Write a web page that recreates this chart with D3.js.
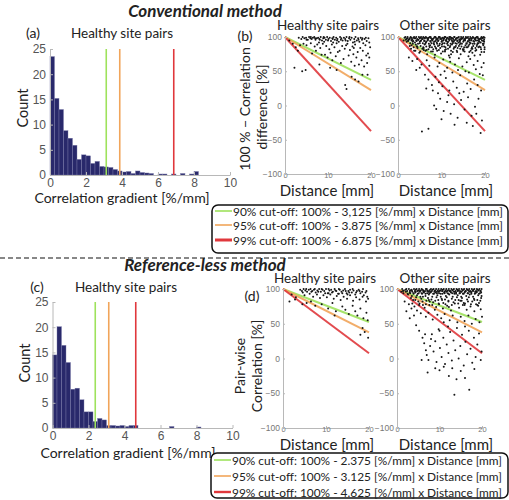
<!DOCTYPE html>
<html lang="en">
<head>
<meta charset="utf-8">
<style>
body { margin: 0; background: #fff; }
svg text { font-family: Lato, "Open Sans", sans-serif; fill: #222; }
.tk text { font-family: "Liberation Sans", Arial, sans-serif; fill: #555; }
.tk path, .tk line { stroke: #b8b8b8; }
</style>
</head>
<body>
<script src="https://d3js.org/d3.v7.min.js"></script>
<script>
// histogram bins (left edge, width 0.25 %/mm)
const binEdges = [0,0.25,0.5,0.75,1,1.25,1.5,1.75,2,2.25,2.5,2.75,3,3.25,3.5,3.75,4,4.25,4.5,4.75,5,5.25,5.5,5.75,6,6.25,6.5,6.75,7,7.25,7.5,7.75,8];
const countsA = [23.5,15.2,13,8.8,7.3,5.9,3.1,4.0,3.8,2.3,2.7,1.7,1.6,1.5,1.1,0.8,0.6,0.7,0.3,0.8,0.5,0.4,0.3,0,0.2,0.2,0,0.2,0,0.3,0,0.2,0.7];
const countsC = [14.5,20.1,16.4,13,7.7,7.9,5.6,3.2,3.2,1.3,1.9,1.6,0.5,0.5,0.4,0.5,0.3,0.5,0.5,0,0,0,0,0,0,0,0.3,0,0,0,0,0,0.2];

const cutoffsB = [3.125, 3.875, 6.875];
const cutoffsD = [2.375, 3.125, 4.625];
const cutColors = ["#9ee25c", "#f1a55a", "#e0383c"];
const legendB = ["90% cut-off: 100% - 3,125 [%/mm] x Distance [mm]",
                 "95% cut-off: 100% - 3.875 [%/mm] x Distance [mm]",
                 "99% cut-off: 100% - 6.875 [%/mm] x Distance [mm]"];
const legendD = ["90% cut-off: 100% - 2.375 [%/mm] x Distance [mm]",
                 "95% cut-off: 100% - 3.125 [%/mm] x Distance [mm]",
                 "99% cut-off: 100% - 4.625 [%/mm] x Distance [mm]"];

const histTicksX = [0,2,4,6,8,10];
const histTicksY = [0,5,10,15,20,25];
const scatTicksX = [0,10,20];
const scatTicksY = [-100,-50,0,50,100];

// scatter points "distance value" pairs
const ptsBHealthy = "3.2 99,3.8 97,4.1 100,4.5 98,4.9 99,5.3 96,5.6 100,5.9 98,6.2 97,6.5 99,6.8 100,7.1 96,7.4 98,7.7 99,8.0 97,8.3 100,8.6 95,8.9 98,9.2 99,9.5 96,9.8 100,10.1 97,10.4 99,10.7 94,11.0 98,11.3 100,11.6 96,11.9 99,12.2 97,12.5 93,12.8 100,13.1 98,13.4 95,13.7 99,14.0 97,14.3 100,14.6 94,14.9 98,15.2 96,15.5 99,15.8 92,16.1 97,16.4 100,16.7 95,17.0 98,17.3 93,17.6 99,17.9 96,18.2 91,18.5 97,19.0 94,19.4 98," +
  "5.0 96,6.0 100,7.0 98,8.1 96,9.0 100,10.0 95,11.1 97,12.1 95,13.0 96,14.1 95,15.0 100,16.2 93,17.1 96,18.0 98,18.8 99,19.6 92," +
  "4.3 90,5.0 88,6.0 91,6.9 86,7.5 89,8.2 84,8.8 90,9.6 87,10.3 82,10.9 89,11.5 85,12.0 91,12.7 80,13.3 87,13.9 83,14.5 90,15.1 81,15.7 86,16.3 89,16.9 78,17.5 84,18.1 80,18.7 88,19.3 76,19.8 85,11.2 92,9.1 93,7.9 92,14.2 88,16.0 84," +
  "2.5 85,3.0 80,3.5 88,6.3 76,7.2 80,8.5 74,9.9 70,10.6 77,11.8 72,12.3 78,13.6 68,14.8 73,15.4 64,16.6 70,17.2 60,17.8 66,18.4 57,19.1 62,19.6 70,13.0 62,11.0 66,9.3 74,15.9 75,18.9 73,16.2 58," +
  "2.2 55,4.0 50,4.8 52,8.0 60,12.0 52,14.0 30,14.3 24,15.5 42,16.3 38,17.1 35,18.0 45,19.2 45,10.5 55,1.0 95,1.8 90";

const ptsBOther = "1.5 99,1.9 97,2.2 100,2.6 98,3.0 99,3.3 96,3.7 100,4.0 98,4.4 97,4.8 100,5.1 99,5.5 97,5.8 100,6.2 98,6.6 99,6.9 96,7.3 100,7.6 98,8.0 97,8.4 100,8.7 99,9.1 97,9.4 100,9.8 98,10.2 99,10.5 96,10.9 100,11.2 98,11.6 97,12.0 100,12.3 99,12.7 97,13.0 100,13.4 98,13.8 99,14.1 96,14.5 100,14.8 98,15.2 97,15.6 100,15.9 99,16.3 97,16.6 100,17.0 98,17.4 99,17.7 96,18.1 100,18.4 98,18.8 97,19.2 100,19.5 98,19.8 96," +
  "1.7 100,2.1 98,2.4 96,2.9 100,3.2 97,3.5 99,4.2 100,4.6 96,5.0 98,5.3 100,5.7 97,6.0 99,6.4 100,6.8 97,7.1 99,7.5 100,7.8 96,8.2 98,8.6 100,8.9 97,9.3 99,9.6 100,10.0 97,10.4 98,10.7 100,11.1 96,11.4 99,11.8 100,12.2 97,12.5 98,12.9 100,13.2 96,13.6 99,14.0 100,14.3 97,14.7 98,15.0 100,15.4 96,15.8 99,16.1 100,16.5 97,16.8 98,17.2 100,17.6 97,17.9 99,18.3 100,18.6 96,19.0 98,19.4 99,19.7 100," +
  "1.3 95,1.8 96,2.3 94,2.7 97,3.1 95,3.4 93,3.8 98,4.3 94,4.7 96,5.2 94,5.6 98,6.1 95,6.5 93,6.9 98,7.4 94,7.9 96,8.3 93,8.8 96,9.2 94,9.7 97,10.1 94,10.6 98,11.0 95,11.5 93,11.9 97,12.4 95,12.8 93,13.3 97,13.7 95,14.2 93,14.6 97,15.1 95,15.5 98,16.0 93,16.4 95,16.9 97,17.3 94,17.8 98,18.2 95,18.7 93,19.1 97,19.6 94,19.9 99," +
  "2.0 93,2.4 95,2.8 91,3.5 94,3.9 92,4.2 95,4.6 90,5.0 93,5.3 95,5.7 91,6.0 94,6.4 92,6.8 95,7.1 90,7.5 93,7.9 95,8.2 91,8.6 94,8.9 92,9.3 95,9.6 90,10.0 93,10.4 95,10.7 91,11.1 94,11.4 92,11.8 95,12.1 90,12.5 93,12.9 95,13.2 91,13.6 94,13.9 92,14.3 95,14.7 90,15.0 93,15.4 95,15.7 91,16.1 94,16.5 92,16.8 95,17.2 90,17.5 93,17.9 95,18.3 91,18.6 94,19.0 92,19.3 95,19.7 90," +
  "3.1 88,3.6 85,4.1 89,4.5 84,5.2 87,5.6 83,6.1 89,6.5 86,7.0 82,7.4 88,7.8 85,8.3 89,8.8 83,9.2 87,9.7 84,10.1 89,10.6 86,11.0 82,11.5 88,11.9 85,12.4 89,12.8 83,13.3 87,13.7 84,14.2 89,14.6 86,15.1 82,15.5 88,16.0 85,16.4 89,16.9 83,17.3 87,17.8 84,18.2 89,18.7 86,19.1 82,19.6 88,19.9 85," +
  "2.7 87,3.4 90,4.3 86,5.0 91,5.8 85,6.3 90,7.2 87,7.7 91,8.5 86,9.0 90,9.5 88,10.3 91,10.9 85,11.3 90,12.0 87,12.6 91,13.1 85,13.5 90,14.0 87,14.4 91,15.2 85,15.8 90,16.2 87,16.7 91,17.0 85,17.6 90,18.1 87,18.5 91,19.0 85,19.5 90,19.8 93," +
  "3.0 83,3.7 80,4.4 86,5.1 79,5.9 84,6.6 81,7.3 85,8.0 79,8.7 84,9.4 81,10.1 86,10.8 79,11.5 83,12.2 80,12.9 85,13.6 78,14.3 83,15.0 80,15.7 85,16.4 78,17.1 83,17.8 80,18.5 85,19.2 78,19.9 82," +
  "4.0 80,4.9 77,5.9 81,6.7 75,7.6 79,8.5 74,9.0 80,9.9 76,10.8 81,11.7 73,12.6 78,13.5 80,14.4 75,15.3 79,16.2 72,17.1 77,18.0 81,18.9 74,19.8 78,12.2 75,14.9 82,16.7 80,10.3 79,8.1 82,6.3 80,17.6 73," +
  "2.5 70,3.3 65,4.4 68,5.4 60,6.6 66,7.2 58,8.4 70,9.5 62,10.4 67,11.3 55,12.0 64,13.1 60,14.0 69,14.8 57,15.8 63,16.6 68,17.4 59,18.3 65,19.2 56,19.7 62,11.9 70,9.1 57,13.8 52,15.5 50,17.9 53,16.3 48,18.8 46,19.5 44,10.7 50,12.5 48," +
  "6.2 45,7.0 38,7.8 30,8.6 42,9.4 34,10.2 28,11.0 40,11.8 22,12.7 35,13.5 26,14.3 44,15.1 20,15.9 32,16.7 24,17.5 38,18.3 30,19.1 22,6.5 25,8.0 22,9.8 45,5.0 55,4.2 52," +
  "5.5 -38,7.0 -34,19.0 -40,8.3 0,8.8 -5,9.7 10,10.5 -8,11.3 5,12.1 -12,12.9 2,13.7 -18,14.5 8,15.3 -6,16.1 12,16.9 -15,17.7 -2,18.5 10,19.3 -22,10.0 -20,13.0 -28,15.8 -25,11.6 15,14.1 18,17.2 -30,9.2 18,18.0 -12";

const ptsDHealthy = "4.0 99,4.4 97,4.8 100,5.2 98,5.6 96,6.0 99,6.4 100,6.8 97,7.2 99,7.6 95,8.0 98,8.4 100,8.8 96,9.2 99,9.6 97,10.0 100,10.4 94,10.8 98,11.2 99,11.6 96,12.0 100,12.4 97,12.8 93,13.2 99,13.6 96,14.0 98,14.4 100,14.8 94,15.2 97,15.6 99,16.0 95,16.4 98,16.8 92,17.2 97,17.6 99,18.0 94,18.4 96,18.8 91,19.2 95,19.6 89," +
  "4.6 95,5.4 100,6.6 96,7.4 100,8.2 96,9.0 100,9.8 94,10.6 100,11.4 95,12.2 98,13.0 100,13.8 94,14.6 97,15.4 95,16.2 100,17.0 95,17.8 97,18.6 100,19.4 97," +
  "5.0 91,6.2 93,7.0 89,7.9 92,8.6 87,9.4 91,10.2 88,11.0 92,11.8 86,12.5 90,13.4 84,14.1 89,14.9 86,15.6 91,16.3 83,17.0 88,17.8 85,18.5 89,19.3 82,19.8 86,13.0 93,15.0 92,10.6 94," +
  "2.0 92,3.0 88,5.5 80,6.5 82,7.5 76,9.0 78,10.5 72,11.5 80,12.3 68,13.8 75,14.5 70,15.3 64,16.2 76,17.3 62,18.0 72,18.7 58,19.4 66,19.7 55,16.8 68,12.0 62," +
  "1.5 82,2.8 85,18.0 34,19.0 38,19.8 30,18.5 44,4.5 78";

const ptsDOther = "1.2 100,1.6 98,2.0 99,2.4 97,2.8 100,3.2 98,3.6 96,4.0 100,4.4 99,4.8 97,5.2 100,5.6 98,6.0 99,6.4 96,6.8 100,7.2 98,7.6 97,8.0 100,8.4 99,8.8 96,9.2 100,9.6 98,10.0 97,10.4 100,10.8 99,11.2 96,11.6 100,12.0 98,12.4 97,12.8 100,13.2 99,13.6 96,14.0 100,14.4 98,14.8 97,15.2 100,15.6 99,16.0 96,16.4 100,16.8 98,17.2 97,17.6 100,18.0 99,18.4 96,18.8 100,19.2 98,19.6 97,19.9 100," +
  "1.4 97,2.2 100,3.0 97,3.4 99,4.2 97,4.6 100,5.0 98,5.4 96,5.8 100,6.2 98,6.6 97,7.0 100,7.4 96,7.8 99,8.2 97,8.6 100,9.0 98,9.4 96,9.8 100,10.2 98,10.6 97,11.0 100,11.4 98,11.8 97,12.2 100,12.6 96,13.0 98,13.4 100,13.8 97,14.2 99,14.6 100,15.0 96,15.4 98,15.8 100,16.2 97,16.6 99,17.0 100,17.4 96,17.8 98,18.2 100,18.6 97,19.0 99,19.4 100,19.8 95," +
  "1.0 96,1.5 94,2.1 96,2.5 93,3.0 95,3.5 98,3.9 94,4.4 96,4.9 93,5.3 97,5.8 94,6.2 96,6.7 93,7.1 97,7.6 94,8.0 96,8.5 93,8.9 97,9.4 94,9.8 96,10.3 93,10.7 97,11.2 94,11.6 96,12.1 93,12.5 97,13.0 94,13.4 96,13.9 93,14.3 97,14.8 94,15.2 96,15.7 93,16.1 97,16.6 94,17.0 96,17.5 93,17.9 97,18.4 94,18.8 96,19.3 93,19.7 97," +
  "2.6 92,3.1 94,3.5 90,3.9 93,4.3 95,4.7 91,5.1 94,5.5 89,5.9 93,6.3 95,6.7 90,7.1 94,7.5 92,7.9 95,8.3 89,8.7 93,9.1 95,9.5 91,9.9 94,10.3 89,10.7 93,11.1 95,11.5 90,11.9 94,12.3 92,12.7 95,13.1 89,13.5 93,13.9 95,14.3 91,14.7 94,15.1 89,15.5 93,15.9 95,16.3 90,16.7 94,17.1 92,17.5 95,17.9 89,18.3 93,18.7 95,19.1 91,19.5 94,19.9 90," +
  "3.3 87,3.8 84,4.5 88,5.0 82,5.7 86,6.1 89,6.9 83,7.3 87,8.1 85,8.5 81,9.3 88,9.7 84,10.5 86,10.9 80,11.7 88,12.1 83,12.9 86,13.3 81,14.1 88,14.5 84,15.3 87,15.7 80,16.5 85,16.9 88,17.7 82,18.1 86,18.9 84,19.3 80,19.8 87,14.9 83,11.3 85,7.7 82," +
  "3.6 79,4.3 84,5.2 77,6.0 82,6.8 78,7.5 84,8.3 77,9.0 83,9.8 79,10.6 84,11.4 78,12.1 82,12.9 77,13.7 84,14.4 79,15.2 83,15.9 77,16.7 82,17.4 78,18.2 84,18.9 77,19.6 83," +
  "2.8 78,4.1 75,5.3 79,6.5 73,7.6 77,8.9 70,9.9 78,10.8 72,11.8 76,12.7 69,13.6 79,14.6 73,15.5 77,16.4 70,17.3 75,18.2 68,19.1 76,19.7 71,12.2 74,16.0 79,18.6 78,9.2 74,6.1 77,4.7 69," +
  "1.8 82,2.2 68,3.4 72,4.0 62,5.6 65,6.8 60,7.4 66,8.4 56,9.5 63,10.4 58,11.2 64,12.4 55,13.1 62,14.2 52,15.0 60,15.9 54,16.8 62,17.6 50,18.5 57,19.4 52,20.0 60,3.0 58,11.0 52," +
  "4.5 48,5.2 40,6.0 30,6.4 22,6.8 12,7.0 5,7.4 -2,7.8 18,8.2 35,8.6 10,9.0 25,9.3 -5,9.8 42,10.1 15,10.5 2,10.9 30,11.3 -8,11.7 20,12.1 8,12.5 38,12.9 -3,13.3 26,13.7 12,14.1 44,14.5 0,14.9 18,15.3 34,15.7 -10,16.1 24,16.5 6,16.9 40,17.3 14,17.7 -6,18.1 30,18.5 2,18.9 20,19.3 36,19.7 -2,19.9 10,8.0 28,10.0 40,12.0 46,16.0 46,6.6 35,13.0 -14,5.8 -2," +
  "7.2 -20,10.0 -17,12.2 -25,13.5 -52,14.0 -30,15.0 -18,17.0 -45,16.0 -28,18.2 -15,11.0 -12,9.0 -14";

function parsePts(s) {
  return s.split(",").map(p => { const v = p.trim().split(" "); return {d: +v[0], v: +v[1]}; });
}

const svg = d3.select("body").append("svg")
  .attr("width", 509).attr("height", 500);

function label(x, y, txt, size, opts) {
  opts = opts || {};
  const t = svg.append("text")
    .attr("x", x).attr("y", y)
    .attr("text-anchor", opts.anchor || "middle")
    .style("font-size", size + "px")
    .text(txt);
  if (opts.rotate) t.attr("transform", "rotate(-90," + x + "," + y + ")");
  if (opts.bold) t.style("font-weight", "bold");
  if (opts.italic) t.style("font-style", "italic");
  return t;
}

function drawHist(counts, cutoffs, x0, x1, yBase, yTop) {
  const x = d3.scaleLinear().domain([0, 10]).range([x0, x1]);
  const y = d3.scaleLinear().domain([0, 25]).range([yBase, yTop]);
  const g = svg.append("g");

  g.selectAll("rect").data(counts).enter().append("rect")
    .attr("x", (d, i) => x(binEdges[i]))
    .attr("y", d => y(d))
    .attr("width", x(0.25) - x(0))
    .attr("height", d => yBase - y(d))
    .attr("fill", "#29296b")
    .attr("stroke", "#7d7daa")
    .attr("stroke-width", 0.4);

  g.selectAll(".cut").data(cutoffs).enter().append("line")
    .attr("x1", d => x(d)).attr("x2", d => x(d))
    .attr("y1", yBase).attr("y2", yTop)
    .attr("stroke", (d, i) => cutColors[i])
    .attr("stroke-width", 1.6);

  g.append("g").attr("class", "tk")
    .attr("transform", "translate(0," + yBase + ")")
    .call(d3.axisBottom(x).tickValues(histTicksX).tickSize(-3).tickSizeOuter(0).tickPadding(3))
    .selectAll("text").style("font-size", "12px");
  g.append("g").attr("class", "tk")
    .attr("transform", "translate(" + x0 + ",0)")
    .call(d3.axisLeft(y).tickValues(histTicksY).tickSize(-3).tickSizeOuter(0).tickPadding(4))
    .selectAll("text").style("font-size", "12px");
}

function drawScatter(pts, cutoffs, x0, x1, yBot, yTop) {
  const x = d3.scaleLinear().domain([0, 20]).range([x0, x1]);
  const y = d3.scaleLinear().domain([-100, 100]).range([yBot, yTop]);
  const g = svg.append("g");

  g.selectAll(".cl").data(cutoffs).enter().append("line")
    .attr("x1", x(0)).attr("y1", y(100))
    .attr("x2", x(20)).attr("y2", d => y(100 - 20 * d))
    .attr("stroke", (d, i) => cutColors[i])
    .attr("stroke-width", 2)
    .attr("opacity", 0.9);

  g.selectAll("circle").data(pts).enter().append("circle")
    .attr("cx", d => x(d.d)).attr("cy", d => y(d.v))
    .attr("r", 1)
    .attr("fill", "#161616");

  g.append("g").attr("class", "tk")
    .attr("transform", "translate(0," + yBot + ")")
    .call(d3.axisBottom(x).tickValues(scatTicksX).tickSize(-2).tickSizeOuter(0).tickPadding(0))
    .selectAll("text").style("font-size", "7.5px").style("fill", "#777")
    .attr("dy", "0.55em");
  g.append("g").attr("class", "tk")
    .attr("transform", "translate(" + x0 + ",0)")
    .call(d3.axisLeft(y).tickValues(scatTicksY).tickSize(-2).tickSizeOuter(0).tickPadding(3))
    .selectAll("text").style("font-size", "8.5px").style("fill", "#777");
}

function drawLegend(texts, bx, by, bw, bh, rows, redWidth) {
  svg.append("rect")
    .attr("x", bx).attr("y", by).attr("width", bw).attr("height", bh)
    .attr("rx", 6).attr("fill", "#fff")
    .attr("stroke", "#111").attr("stroke-width", 1.5);
  texts.forEach((t, i) => {
    svg.append("line")
      .attr("x1", bx + 3).attr("x2", bx + 20)
      .attr("y1", rows[i]).attr("y2", rows[i])
      .attr("stroke", cutColors[i])
      .attr("stroke-width", i === 2 ? redWidth : 1.6);
    svg.append("text")
      .attr("x", bx + 21).attr("y", rows[i] + 4.5)
      .style("font-size", "11.9px")
      .text(t);
  });
}

// ---- Conventional method ----
label(205, 17, "Conventional method", 17, {bold: true, italic: true});
label(33, 38, "(a)", 14);
label(122, 38, "Healthy site pairs", 13.5);
drawHist(countsA, cutoffsB, 50, 230, 175, 49);
label(28, 108, "Count", 14.5, {rotate: true});
label(122, 203, "Correlation gradient [%/mm]", 14);

label(245, 41, "(b)", 14);
label(328, 30, "Healthy site pairs", 13.5);
label(445, 30, "Other site pairs", 13.5);
drawScatter(parsePts(ptsBHealthy), cutoffsB, 285, 371, 174, 37);
drawScatter(parsePts(ptsBOther), cutoffsB, 398, 485, 174, 37);
label(250, 109, "100 % \u2212 Correlation", 14, {rotate: true});
label(267, 107, "difference [%]", 14, {rotate: true});
label(327, 196, "Distance [mm]", 15);
label(446, 196, "Distance [mm]", 15);

drawLegend(legendB, 212, 205, 296, 48, [211, 225, 240], 3);

svg.append("line")
  .attr("x1", 0).attr("x2", 509).attr("y1", 258).attr("y2", 258)
  .attr("stroke", "#111").attr("stroke-width", 1.2)
  .attr("stroke-dasharray", "5,3");

// ---- Reference-less method ----
label(205, 271, "Reference-less method", 17, {bold: true, italic: true});
label(37, 292, "(c)", 14);
label(126, 292, "Healthy site pairs", 13.5);
drawHist(countsC, cutoffsD, 52.5, 232.5, 428, 302);
label(30, 363, "Count", 14.5, {rotate: true});
label(128, 458, "Correlation gradient [%/mm]", 14);

label(252, 301, "(d)", 14);
label(325, 283, "Healthy site pairs", 13.5);
label(445, 283, "Other site pairs", 13.5);
drawScatter(parsePts(ptsDHealthy), cutoffsD, 283, 369, 428, 289);
drawScatter(parsePts(ptsDOther), cutoffsD, 397, 482, 428, 289);
label(245, 366, "Pair-wise", 14, {rotate: true});
label(262, 366, "Correlation [%]", 14, {rotate: true});
label(327, 450, "Distance [mm]", 15);
label(446, 450, "Distance [mm]", 15);

drawLegend(legendD, 211, 453, 297, 45, [460, 476, 492], 2.4);
</script>
</body>
</html>
